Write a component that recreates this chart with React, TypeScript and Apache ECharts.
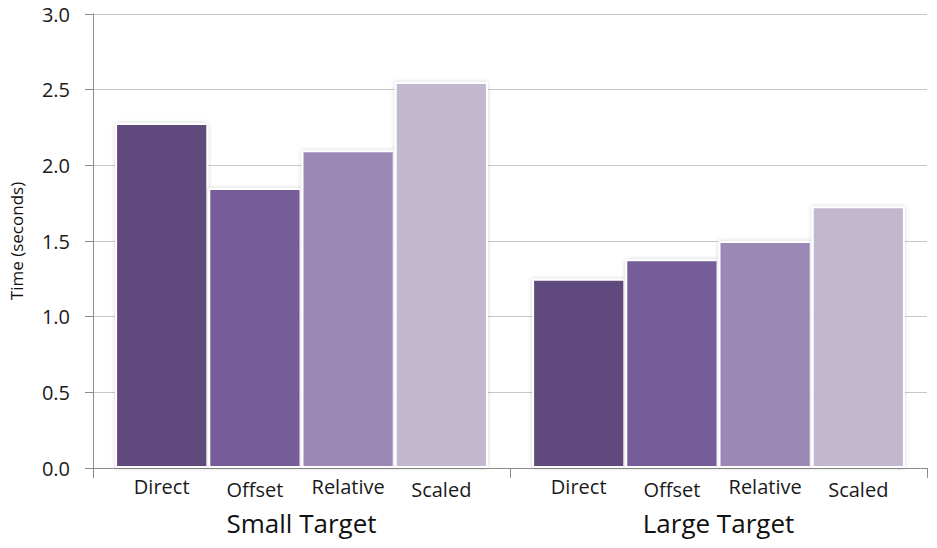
import React, { useEffect, useRef } from "react";
import * as echarts from "echarts";

// Task groups on the category axis
const groups = ["Small Target", "Large Target"];
// Interaction techniques, one bar each per group
const techniques = ["Direct", "Offset", "Relative", "Scaled"];
// Mean completion time (seconds), per technique, in group order
const directTimes = [2.28, 1.25];
const offsetTimes = [1.85, 1.38];
const relativeTimes = [2.1, 1.5];
const scaledTimes = [2.55, 1.73];
const yTicks = { min: 0, max: 3, step: 0.5 };

const seriesValues = [directTimes, offsetTimes, relativeTimes, scaledTimes];
const colors = ["#604a7b", "#765c98", "#9c88b4", "#c1b7cf"];
// Offset and Scaled labels sit a little lower than their neighbours
const labelDrop = [0, 3, 0, 3];
const FONT = "'Open Sans', Lato, sans-serif";

export default function App() {
  const ref = useRef<HTMLDivElement>(null);

  useEffect(() => {
    if (!ref.current) return;
    const chart = echarts.init(ref.current, null, { renderer: "svg" });
    chart.setOption({
      animation: false,
      backgroundColor: "#ffffff",
      grid: { left: 93, right: 10, top: 14, bottom: 80, containLabel: false },
      xAxis: {
        type: "category",
        data: groups,
        axisLine: { show: true, lineStyle: { color: "#8c8c8c", width: 1 } },
        axisTick: { show: true, alignWithLabel: false, length: 10, lineStyle: { color: "#8c8c8c" } },
        axisLabel: {
          margin: 42,
          fontSize: 26,
          color: "#111111",
          fontFamily: FONT,
        },
      },
      yAxis: {
        type: "value",
        min: yTicks.min,
        max: yTicks.max,
        interval: yTicks.step,
        name: "Time (seconds)",
        nameLocation: "middle",
        nameGap: 68,
        nameTextStyle: { fontSize: 17, color: "#111111", fontFamily: FONT },
        axisLine: { show: true, lineStyle: { color: "#8c8c8c", width: 1 } },
        axisTick: { show: true, length: 8, lineStyle: { color: "#8c8c8c" } },
        axisLabel: {
          margin: 23,
          fontSize: 20,
          color: "#1a1a1a",
          fontFamily: FONT,
          formatter: (v: number) => v.toFixed(1),
        },
        splitLine: { show: true, lineStyle: { color: "#c8c8c8", width: 1 } },
      },
      series: techniques.map((name, i) => ({
        name,
        type: "bar",
        data: seriesValues[i],
        barGap: "0%",
        barCategoryGap: "10.6%",
        itemStyle: {
          color: colors[i],
          borderColor: "#ffffff",
          borderWidth: 2,
          shadowBlur: 4,
          shadowColor: "rgba(0,0,0,0.18)",
        },
        label: {
          show: true,
          position: "bottom",
          distance: 8,
          offset: [0, labelDrop[i]],
          formatter: "{a}",
          fontSize: 20,
          color: "#1a1a1a",
          fontFamily: FONT,
        },
      })),
    });
    return () => chart.dispose();
  }, []);

  return <div ref={ref} style={{ width: 937, height: 548, margin: -8 }} />;
}
